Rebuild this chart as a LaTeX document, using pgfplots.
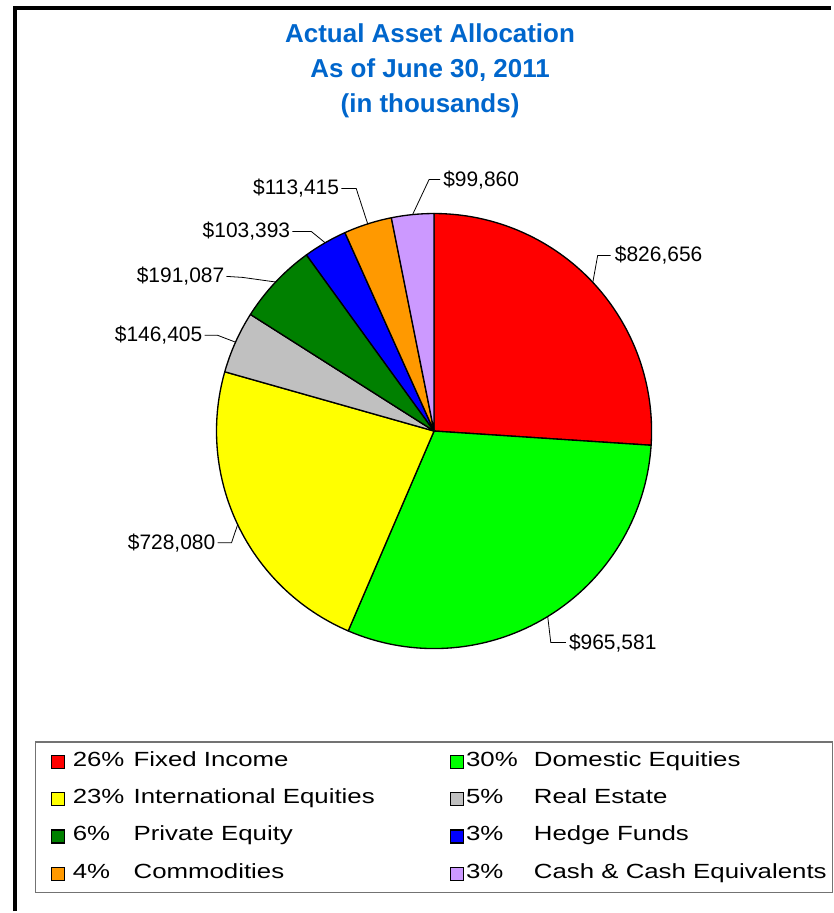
\documentclass[border=0pt]{standalone}
\usepackage{pgfplots}
\pgfplotsset{compat=1.18}
\usepackage{pgfplotstable}
\usepackage{fontspec}
\setmainfont{Liberation Sans}
\newfontfamily\legfont[FakeStretch=1.26]{Liberation Sans}

\definecolor{pc0}{HTML}{FF0000}
\definecolor{pc1}{HTML}{00FF00}
\definecolor{pc2}{HTML}{FFFF00}
\definecolor{pc3}{HTML}{C0C0C0}
\definecolor{pc4}{HTML}{008000}
\definecolor{pc5}{HTML}{0000FF}
\definecolor{pc6}{HTML}{FF9900}
\definecolor{pc7}{HTML}{CC99FF}
\definecolor{titleblue}{HTML}{0066CC}

% asset values (in thousands), clockwise from 12 o'clock
\pgfplotstableread{
value
826656
965581
728080
146405
191087
103393
113415
99860
}\piedata

% total, then start / end / middle angle of every slice
\gdef\pietotal{0}
\foreach \i in {0,...,7}{%
  \pgfplotstablegetelem{\i}{value}\of\piedata
  \xdef\pietotal{\fpeval{\pietotal+\pgfplotsretval}}%
}
\gdef\piecum{0}
\foreach \i in {0,...,7}{%
  \pgfplotstablegetelem{\i}{value}\of\piedata
  \expandafter\xdef\csname pieS\i\endcsname{\fpeval{90-360*\piecum/\pietotal}}%
  \expandafter\xdef\csname pieM\i\endcsname{\fpeval{90-360*(\piecum+\pgfplotsretval/2)/\pietotal}}%
  \xdef\piecum{\fpeval{\piecum+\pgfplotsretval}}%
  \expandafter\xdef\csname pieE\i\endcsname{\fpeval{90-360*\piecum/\pietotal}}%
}
\newcommand\pieM[1]{\csname pieM#1\endcsname}

% legend text: gap, width of the % column, whole width, percent, name
\newcommand\legtext[5]{\makebox[#3][l]{\hspace*{#1}\makebox[#2][l]{#4}#5}}
\newcommand\legL[2]{\legtext{6pt}{45.75pt}{289.5pt}{#1}{#2}}
\newcommand\legR[2]{\legtext{1.5pt}{51pt}{265.5pt}{#1}{#2}}

\tikzset{
  lbl/.style={inner sep=0pt, font=\fontsize{15.75}{18}\selectfont},
  leader/.style={draw=black, line width=0.6pt},
}

\begin{document}
\begin{tikzpicture}
\begin{axis}[
  x=0.75pt, y=0.75pt,
  xmin=0, xmax=833, ymin=0, ymax=913,
  hide axis, clip=false,
  legend columns=2,
  legend style={at={(0.04202,0.1862)}, anchor=north west,
    draw=black!55, line width=1.1pt, fill=white,
    inner xsep=11.25pt, inner ysep=7.3pt,
    column sep=0pt, row sep=13.5pt,
    font=\legfont\fontsize{15.4}{18}\selectfont,
    cells={anchor=base west},
    nodes={inner sep=0pt, text height=11pt, text depth=3.5pt, anchor=base west}},
  legend image code/.code={\draw[#1, draw=black, line width=0.9pt] (0pt,-1.5pt) rectangle (9.75pt,8.25pt);},
]
\path (axis cs:0,0) rectangle (axis cs:833,913);

% outer frame (left and top edges only)
\draw[line width=3pt] (axis cs:15.5,0) -- (axis cs:15.5,905) -- (axis cs:833,905);

\node[align=center, text=titleblue, font=\bfseries\fontsize{19.5}{26.25}\selectfont]
  at (axis cs:431,842) {Actual Asset Allocation\\As of June 30, 2011\\(in thousands)};

% slices
\pgfplotsinvokeforeach{0,...,7}{
  \filldraw[fill=pc#1, draw=black, line width=1pt, line join=round]
    (axis cs:435,481) -- ++(\csname pieS#1\endcsname:163.5pt)
    arc[start angle=\csname pieS#1\endcsname, end angle=\csname pieE#1\endcsname, radius=163.5pt] -- cycle;
}

% value labels
\draw[leader] (axis cs:435,481) ++(\pieM{0}:163.5pt) -- (axis cs:599,657) -- (axis cs:612,657);
\node[lbl, anchor=west] at (axis cs:616,657) {\$826,656};
\draw[leader] (axis cs:435,481) ++(\pieM{1}:163.5pt) -- (axis cs:552,269) -- (axis cs:567,269);
\node[lbl, anchor=west] at (axis cs:570,269) {\$965,581};
\draw[leader] (axis cs:435,481) ++(\pieM{2}:163.5pt) -- (axis cs:232,369) -- (axis cs:218,369);
\node[lbl, anchor=east] at (axis cs:216,369) {\$728,080};
\draw[leader] (axis cs:435,481) ++(\pieM{3}:163.5pt) -- (axis cs:218,577) -- (axis cs:205,577);
\node[lbl, anchor=east] at (axis cs:203,577) {\$146,405};
\draw[leader] (axis cs:435,481) ++(\pieM{4}:163.5pt) -- (axis cs:243,635) -- (axis cs:227,636);
\node[lbl, anchor=east] at (axis cs:225,636) {\$191,087};
\draw[leader] (axis cs:435,481) ++(\pieM{5}:163.5pt) -- (axis cs:312,681) -- (axis cs:293,681);
\node[lbl, anchor=east] at (axis cs:291,681) {\$103,393};
\draw[leader] (axis cs:435,481) ++(\pieM{6}:163.5pt) -- (axis cs:357,724) -- (axis cs:342,724);
\node[lbl, anchor=east] at (axis cs:340,724) {\$113,415};
\draw[leader] (axis cs:435,481) ++(\pieM{7}:163.5pt) -- (axis cs:430,733) -- (axis cs:441,733);
\node[lbl, anchor=west] at (axis cs:444,733) {\$99,860};

% legend
\addlegendimage{fill=pc0}\addlegendentry{\legL{26\%}{Fixed Income}}
\addlegendimage{fill=pc1}\addlegendentry{\legR{30\%}{Domestic Equities}}
\addlegendimage{fill=pc2}\addlegendentry{\legL{23\%}{International Equities}}
\addlegendimage{fill=pc3}\addlegendentry{\legR{5\%}{Real Estate}}
\addlegendimage{fill=pc4}\addlegendentry{\legL{6\%}{Private Equity}}
\addlegendimage{fill=pc5}\addlegendentry{\legR{3\%}{Hedge Funds}}
\addlegendimage{fill=pc6}\addlegendentry{\legL{4\%}{Commodities}}
\addlegendimage{fill=pc7}\addlegendentry{\legR{3\%}{Cash \& Cash Equivalents}}
\end{axis}
\end{tikzpicture}
\end{document}
